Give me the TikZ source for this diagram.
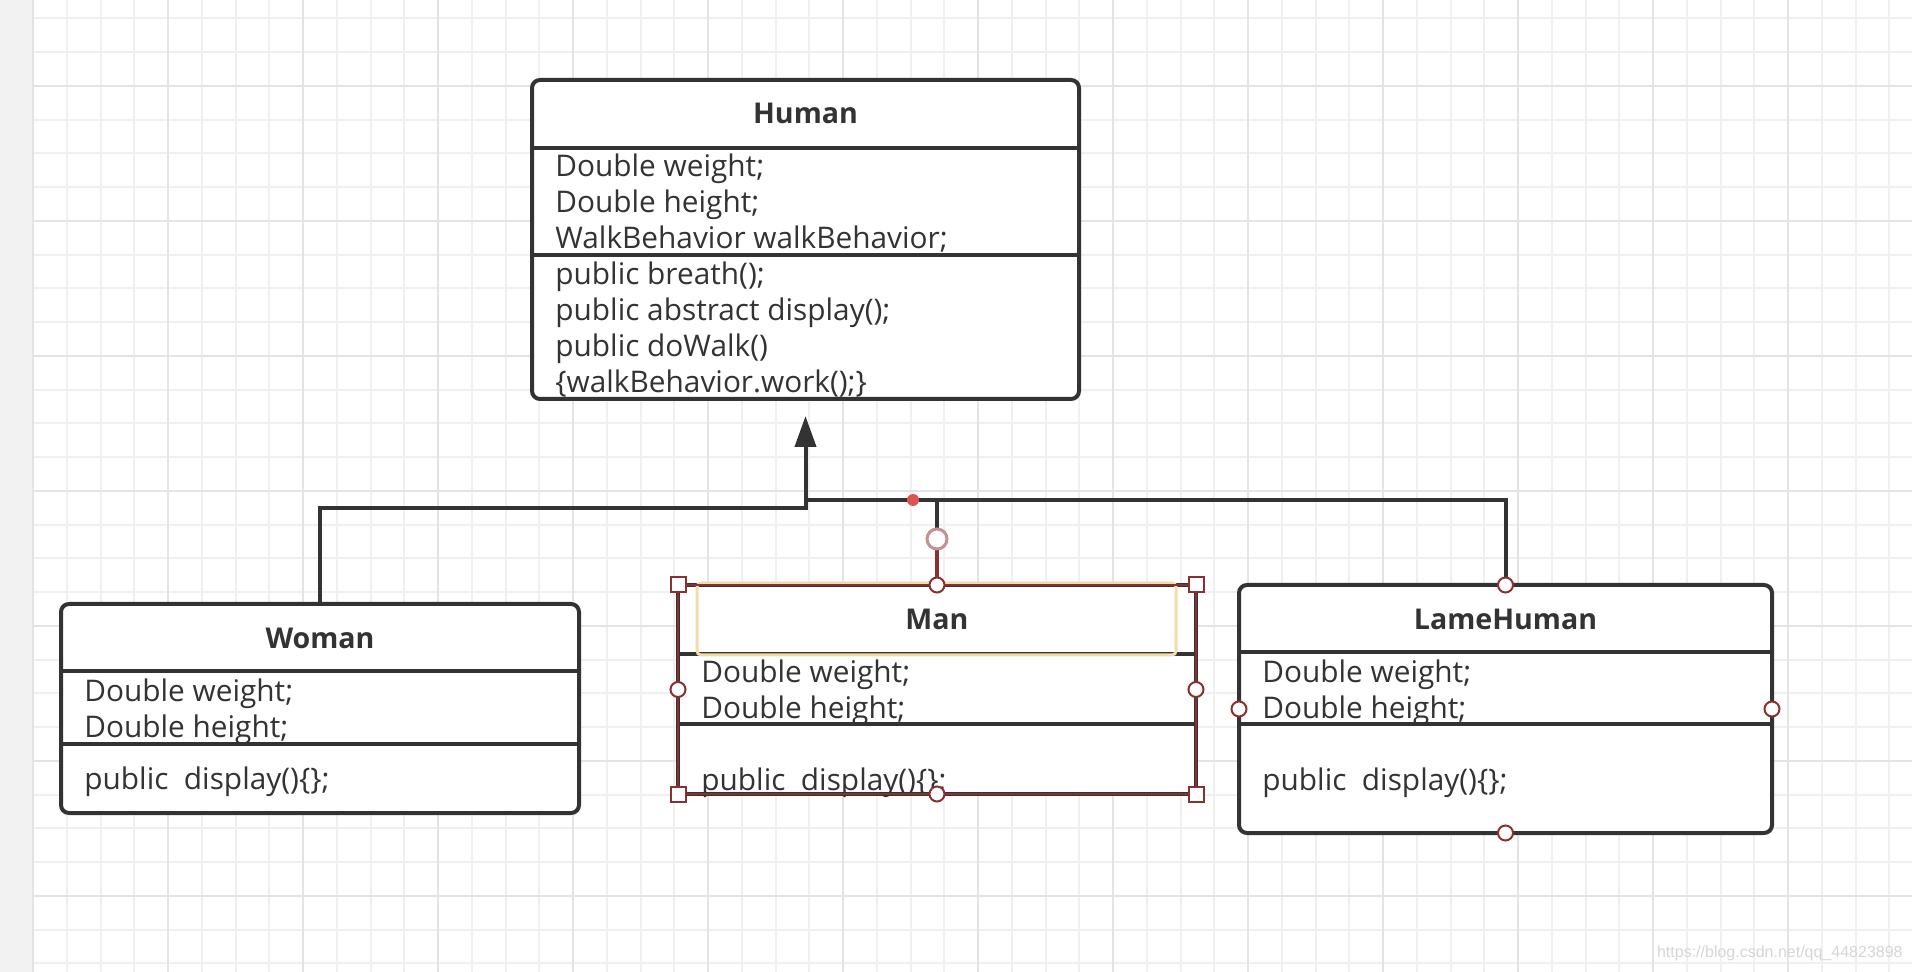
\documentclass[tikz,border=0pt]{standalone}
\usepackage{fontspec}
\setmainfont{Open Sans}
\newfontfamily\wmfont{Liberation Sans}
\usepackage{tikz}
\usetikzlibrary{arrows.meta,positioning,calc}
\definecolor{ink}{HTML}{333333}
\definecolor{gridminor}{HTML}{F0F0F0}
\definecolor{gridmajor}{HTML}{E4E4E4}
\definecolor{strip}{HTML}{F2F2F2}
\definecolor{selred}{HTML}{8B3030}
\definecolor{hilite}{HTML}{F3DCA8}
\definecolor{dotred}{HTML}{E05252}
\definecolor{knobred}{HTML}{C49090}
\definecolor{wmgray}{HTML}{D6D6D6}
\newcommand{\hsq}{node[handlesq]{}}
\newcommand{\hci}{node[handleci]{}}

\begin{document}
\begin{tikzpicture}[x=0.5pt,y=-0.5pt,
	classbox/.style={draw=ink,line width=2pt,rounded corners=4pt,fill=white,inner sep=0pt,outer sep=0pt,anchor=north west},
	classtitle/.style={font=\fontsize{14.3}{18}\selectfont\bfseries,text=ink,inner sep=0pt},
	member/.style={font=\fontsize{14.9}{18}\selectfont,text=ink,align=left,anchor=west,inner sep=0pt},
	sep/.style={draw=ink,line width=2pt},
	conn/.style={draw=ink,line width=2pt},
	handlesq/.style={draw=selred,fill=white,line width=1pt,minimum size=7.5pt,inner sep=0pt},
	handleci/.style={draw=selred,fill=white,line width=1pt,circle,minimum size=7.5pt,inner sep=0pt}]
	%	background grid
	\useasboundingbox (0,0) rectangle (1912,972);
	\fill[white] (0,0) rectangle (1912,972);
	\foreach \i in {0,...,56}
		\draw[gridminor,line width=1pt] ({33+\i*33.75},0) -- ({33+\i*33.75},972);
	\foreach \j in {0,...,28}
		\draw[gridminor,line width=1pt] (33,{18.3+\j*33.75}) -- (1912,{18.3+\j*33.75});
	\foreach \i in {0,...,14}
		\draw[gridmajor,line width=1.2pt] ({33+\i*135},0) -- ({33+\i*135},972);
	\foreach \j in {0,...,6}
		\draw[gridmajor,line width=1.2pt] (33,{85.8+\j*135}) -- (1912,{85.8+\j*135});
	\fill[strip] (0,0) rectangle (32,972);

	%	Human
	\node[classbox,minimum width=273.5pt,minimum height=159.5pt] (human) at (532,80) {};
	\node[classtitle] (humantitle) at (805.5,113) {Human};
	\draw[sep] (532,148) -- (1079,148);
	\draw[sep] (532,255) -- (1079,255);
	\node[member] (humanattr) at (555,203) {Double weight;\\Double height;\\WalkBehavior walkBehavior;};
	\node[member] (humanops) at (555,330) {public breath();\\public abstract display();\\public doWalk()\\\{walkBehavior.work();\}};

	%	Woman
	\node[classbox,minimum width=259pt,minimum height=104.5pt] (woman) at (61,604) {};
	\node[classtitle] (womantitle) at (320,638) {Woman};
	\draw[sep] (61,671) -- (579,671);
	\draw[sep] (61,744) -- (579,744);
	\node[member] (womanattr) at (84,712) {Double weight;\\Double height;};
	\node[member] (womanops) at (84,782) {public\ \ display()\{\};};

	%	Man (selected)
	\node[classbox,rounded corners=0pt,minimum width=259pt,minimum height=104.5pt] (man) at (678,585) {};
	\node[classtitle] (mantitle) at (937,619) {Man};
	\draw[sep] (678,654) -- (1196,654);
	\draw[sep] (678,724) -- (1196,724);
	\node[member] (manattr) at (701,693) {Double weight;\\Double height;};
	\node[member] (manops) at (701,783) {public\ \ display()\{\};};
	\draw[hilite,line width=1.5pt,rounded corners=2pt] (697,583) rectangle (1176,655);

	%	LameHuman
	\node[classbox,minimum width=266.5pt,minimum height=124pt] (lame) at (1239,585) {};
	\node[classtitle] (lametitle) at (1505.5,619) {LameHuman};
	\draw[sep] (1239,652) -- (1772,652);
	\draw[sep] (1239,724) -- (1772,724);
	\node[member] (lameattr) at (1262,693) {Double weight;\\Double height;};
	\node[member] (lameops) at (1262,783) {public\ \ display()\{\};};

	%	connectors
	\coordinate (bend) at (805.5,508);
	\coordinate (tee) at (805.5,500);
	\coordinate (tip) at (805.5,416);
	\coordinate (knob) at (937,539);
	\draw[conn,-{Triangle[length=15.5pt,width=10.5pt]}] (woman.north) |- (bend) -- (tip);
	\draw[conn] (tee) -| (lame.north);
	\draw[conn] (man.north |- tee) -- (knob);
	\draw[selred,line width=2pt] (knob) -- (man.north);
	\node[circle,draw=knobred,fill=white,line width=1.5pt,minimum size=10pt,inner sep=0pt] (knobc) at (knob) {};
	\fill[dotred] (913,500) circle (3pt);

	%	selection handles
	\draw[selred,line width=0.8pt] (man.north west) rectangle (man.south east);
	\path (man.north west)\hsq (man.north east)\hsq (man.south west)\hsq (man.south east)\hsq;
	\path (man.north)\hci (man.south)\hci (man.west)\hci (man.east)\hci;
	\path (lame.north)\hci (lame.south)\hci (lame.west)\hci (lame.east)\hci;

	\node[font=\wmfont\fontsize{8}{10}\selectfont,text=wmgray,anchor=east,inner sep=0pt] (wm) at (1903,953) {https://blog.csdn.net/qq\_44823898};
\end{tikzpicture}
\end{document}
